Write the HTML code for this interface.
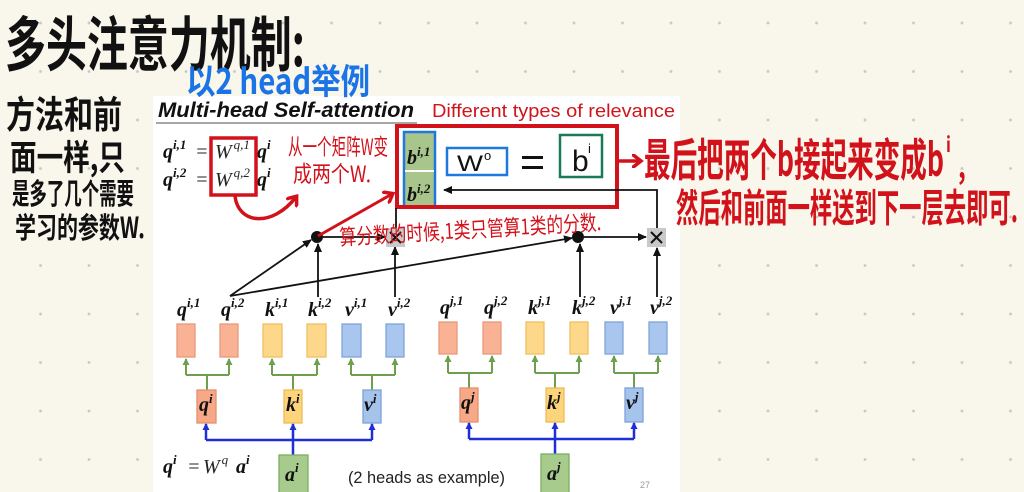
<!DOCTYPE html>
<html><head><meta charset="utf-8">
<style>
html,body{margin:0;padding:0;}
body{width:1024px;height:492px;overflow:hidden;position:relative;
background-color:#f9f6ec;
background-image:radial-gradient(circle,#c9c7c0 1.1px,rgba(0,0,0,0) 1.7px);
background-size:48.5px 48.5px;background-position:16.25px -1.25px;}
svg{position:absolute;left:0;top:0;}
.m{font-family:"Liberation Serif",serif;font-weight:bold;font-style:italic;font-size:20px;fill:#111;}
.mi{font-family:"Liberation Serif",serif;font-style:italic;font-size:20px;fill:#222;}
.s{font-size:13px;}
.hk{font-family:"Noto Sans CJK SC","WenQuanYi Zen Hei",sans-serif;font-weight:700;}
.hn{font-family:"Noto Sans CJK SC","WenQuanYi Zen Hei",sans-serif;font-weight:400;}
</style></head><body>
<svg width="1024" height="492" viewBox="0 0 1024 492" xmlns="http://www.w3.org/2000/svg">
<defs>
<marker id="ab" markerWidth="9" markerHeight="8" refX="8" refY="4" orient="auto" markerUnits="userSpaceOnUse"><path d="M0,0 L9,4 L0,8 z" fill="#111"/></marker>
<marker id="ag" markerWidth="7" markerHeight="7" refX="6" refY="3.5" orient="auto" markerUnits="userSpaceOnUse"><path d="M0,0 L7,3.5 L0,7 z" fill="#6e9f4f"/></marker>
<marker id="abl" markerWidth="7" markerHeight="7" refX="6" refY="3.5" orient="auto" markerUnits="userSpaceOnUse"><path d="M0,0 L7,3.5 L0,7 z" fill="#1f2fd8"/></marker>
<marker id="ar" markerWidth="14" markerHeight="14" refX="8" refY="7" orient="auto" markerUnits="userSpaceOnUse"><path d="M0,0 L9,7 L0,14" fill="none" stroke="#d2121a" stroke-width="3.5" stroke-linecap="round"/></marker>
</defs>

<rect x="153" y="96" width="527" height="396" fill="#ffffff"/>

<text x="158" y="117" font-family="Liberation Sans,sans-serif" font-weight="bold" font-style="italic" font-size="21" fill="#111" textLength="256" lengthAdjust="spacingAndGlyphs">Multi-head Self-attention</text>
<line x1="156" y1="123" x2="417" y2="123" stroke="#8a8a8a" stroke-width="1.5"/>
<text x="432" y="117" font-family="Liberation Sans,sans-serif" font-size="18" fill="#d0141c" textLength="243" lengthAdjust="spacingAndGlyphs">Different types of relevance</text>

<text class="m" x="163" y="158">q<tspan class="s" dy="-9">i,1</tspan></text>
<text class="mi" x="195" y="158" font-style="normal">=</text>
<text class="mi" x="215" y="158">W<tspan class="s" dy="-9" dx="2">q,1</tspan></text>
<text class="m" x="257" y="158">q<tspan class="s" dy="-9">i</tspan></text>
<text class="m" x="163" y="186">q<tspan class="s" dy="-9">i,2</tspan></text>
<text class="mi" x="195" y="186" font-style="normal">=</text>
<text class="mi" x="215" y="186">W<tspan class="s" dy="-9" dx="2">q,2</tspan></text>
<text class="m" x="257" y="186">q<tspan class="s" dy="-9">i</tspan></text>
<rect x="211" y="138" width="45" height="57" fill="none" stroke="#d2121a" stroke-width="3.5"/>

<rect x="404" y="132" width="31" height="75" fill="#a8c58c" stroke="#1f78e0" stroke-width="2.5"/>
<line x1="405" y1="171" x2="434" y2="171" stroke="#ffffff" stroke-width="2"/>
<text class="m" x="407" y="164" font-size="17">b<tspan class="s" font-size="11" dy="-8">i,1</tspan></text>
<text class="m" x="407" y="201" font-size="17">b<tspan class="s" font-size="11" dy="-8">i,2</tspan></text>
<rect x="447" y="148" width="60" height="27" fill="#fff" stroke="#1f78e0" stroke-width="2.5"/>
<text x="457" y="171" font-family="Liberation Sans,sans-serif" font-size="22" fill="#111" textLength="26" lengthAdjust="spacingAndGlyphs">W</text>
<text x="484" y="160" font-family="Liberation Sans,sans-serif" font-size="13" fill="#111">o</text>
<rect x="522" y="156" width="21" height="3" fill="#111"/>
<rect x="522" y="166" width="21" height="3" fill="#111"/>
<rect x="560" y="135" width="42" height="42" fill="#fff" stroke="#1a7a55" stroke-width="2.5"/>
<text x="572" y="171" font-family="Liberation Sans,sans-serif" font-size="30" fill="#111">b</text>
<text x="588" y="153" font-family="Liberation Sans,sans-serif" font-size="13" fill="#111">i</text>
<rect x="397" y="126" width="220" height="81" fill="none" stroke="#d2121a" stroke-width="4"/>

<g stroke="#111" stroke-width="1.8" fill="none">
<line x1="230" y1="296" x2="311" y2="240" marker-end="url(#ab)"/>
<line x1="230" y1="296" x2="572" y2="238" marker-end="url(#ab)"/>
<line x1="318" y1="297" x2="318" y2="244" marker-end="url(#ab)"/>
<line x1="395" y1="297" x2="395" y2="247" marker-end="url(#ab)"/>
<line x1="323" y1="237" x2="385" y2="237" marker-end="url(#ab)"/>
<line x1="396" y1="228" x2="396" y2="208"/>
<line x1="580" y1="297" x2="580" y2="244" marker-end="url(#ab)"/>
<line x1="657" y1="297" x2="657" y2="248" marker-end="url(#ab)"/>
<line x1="584" y1="237" x2="646" y2="237" marker-end="url(#ab)"/>
<polyline points="657,228 657,190 444,190" marker-end="url(#ab)"/>
</g>
<circle cx="317" cy="237" r="6" fill="#111"/>
<circle cx="578" cy="237" r="6" fill="#111"/>
<rect x="386" y="228" width="19" height="19" fill="#c9c9c9"/>
<path d="M390,232 L401,243 M401,232 L390,243" stroke="#111" stroke-width="2"/>
<rect x="647" y="228" width="19" height="19" fill="#c9c9c9"/>
<path d="M651,232 L662,243 M662,232 L651,243" stroke="#111" stroke-width="2"/>

<text class="m" x="177" y="316">q<tspan class="s" dy="-9">i,1</tspan></text>
<text class="m" x="221" y="316">q<tspan class="s" dy="-9">i,2</tspan></text>
<text class="m" x="265" y="316">k<tspan class="s" dy="-9">i,1</tspan></text>
<text class="m" x="308" y="316">k<tspan class="s" dy="-9">i,2</tspan></text>
<text class="m" x="345" y="316">v<tspan class="s" dy="-9">i,1</tspan></text>
<text class="m" x="388" y="316">v<tspan class="s" dy="-9">i,2</tspan></text>
<text class="m" x="440" y="314">q<tspan class="s" dy="-9">j,1</tspan></text>
<text class="m" x="484" y="314">q<tspan class="s" dy="-9">j,2</tspan></text>
<text class="m" x="528" y="314">k<tspan class="s" dy="-9">j,1</tspan></text>
<text class="m" x="572" y="314">k<tspan class="s" dy="-9">j,2</tspan></text>
<text class="m" x="610" y="314">v<tspan class="s" dy="-9">j,1</tspan></text>
<text class="m" x="650" y="314">v<tspan class="s" dy="-9">j,2</tspan></text>

<g stroke-width="1.3">
<rect x="177" y="324" width="18" height="33" fill="#f9b293" stroke="#e79a7c"/>
<rect x="220" y="324" width="18" height="33" fill="#f9b293" stroke="#e79a7c"/>
<rect x="263" y="324" width="19" height="33" fill="#fdd88a" stroke="#f2c060"/>
<rect x="307" y="324" width="19" height="33" fill="#fdd88a" stroke="#f2c060"/>
<rect x="342" y="324" width="19" height="33" fill="#a9c6ee" stroke="#7fa5d9"/>
<rect x="386" y="324" width="18" height="33" fill="#a9c6ee" stroke="#7fa5d9"/>
<rect x="439" y="322" width="18" height="32" fill="#f9b293" stroke="#e79a7c"/>
<rect x="483" y="322" width="18" height="32" fill="#f9b293" stroke="#e79a7c"/>
<rect x="526" y="322" width="18" height="32" fill="#fdd88a" stroke="#f2c060"/>
<rect x="570" y="322" width="18" height="32" fill="#fdd88a" stroke="#f2c060"/>
<rect x="605" y="322" width="18" height="32" fill="#a9c6ee" stroke="#7fa5d9"/>
<rect x="649" y="322" width="18" height="32" fill="#a9c6ee" stroke="#7fa5d9"/>
</g>

<g stroke="#6e9f4f" stroke-width="2" fill="none">
<polyline points="186,375 229,375"/><line x1="207" y1="375" x2="207" y2="390"/>
<line x1="186" y1="375" x2="186" y2="359" marker-end="url(#ag)"/><line x1="229" y1="375" x2="229" y2="359" marker-end="url(#ag)"/>
<polyline points="272,375 317,375"/><line x1="293" y1="375" x2="293" y2="390"/>
<line x1="272" y1="375" x2="272" y2="359" marker-end="url(#ag)"/><line x1="317" y1="375" x2="317" y2="359" marker-end="url(#ag)"/>
<polyline points="351,375 395,375"/><line x1="372" y1="375" x2="372" y2="390"/>
<line x1="351" y1="375" x2="351" y2="359" marker-end="url(#ag)"/><line x1="395" y1="375" x2="395" y2="359" marker-end="url(#ag)"/>
<polyline points="448,373 492,373"/><line x1="469" y1="373" x2="469" y2="388"/>
<line x1="448" y1="373" x2="448" y2="356" marker-end="url(#ag)"/><line x1="492" y1="373" x2="492" y2="356" marker-end="url(#ag)"/>
<polyline points="535,373 579,373"/><line x1="555" y1="373" x2="555" y2="388"/>
<line x1="535" y1="373" x2="535" y2="356" marker-end="url(#ag)"/><line x1="579" y1="373" x2="579" y2="356" marker-end="url(#ag)"/>
<polyline points="614,373 658,373"/><line x1="634" y1="373" x2="634" y2="388"/>
<line x1="614" y1="373" x2="614" y2="356" marker-end="url(#ag)"/><line x1="658" y1="373" x2="658" y2="356" marker-end="url(#ag)"/>
</g>

<g stroke-width="1.3">
<rect x="197" y="390" width="19" height="33" fill="#f7a886" stroke="#e3906f"/>
<rect x="284" y="390" width="18" height="33" fill="#fcd47c" stroke="#efbc55"/>
<rect x="363" y="390" width="18" height="33" fill="#a6c3ec" stroke="#7ca2d8"/>
<rect x="460" y="388" width="18" height="34" fill="#f7a886" stroke="#e3906f"/>
<rect x="546" y="388" width="18" height="34" fill="#fcd47c" stroke="#efbc55"/>
<rect x="625" y="388" width="18" height="34" fill="#a6c3ec" stroke="#7ca2d8"/>
</g>
<text class="m" x="199" y="411" font-size="18">q<tspan class="s" font-size="12" dy="-8">i</tspan></text>
<text class="m" x="286" y="411" font-size="18">k<tspan class="s" font-size="12" dy="-8">i</tspan></text>
<text class="m" x="364" y="411" font-size="18">v<tspan class="s" font-size="12" dy="-8">i</tspan></text>
<text class="m" x="461" y="409" font-size="18">q<tspan class="s" font-size="12" dy="-8">j</tspan></text>
<text class="m" x="547" y="409" font-size="18">k<tspan class="s" font-size="12" dy="-8">j</tspan></text>
<text class="m" x="626" y="409" font-size="18">v<tspan class="s" font-size="12" dy="-8">j</tspan></text>

<g stroke="#1f2fd8" stroke-width="2.5" fill="none">
<line x1="206" y1="440" x2="372" y2="440"/>
<line x1="293" y1="455" x2="293" y2="424" marker-end="url(#abl)"/>
<line x1="206" y1="440" x2="206" y2="424" marker-end="url(#abl)"/>
<line x1="372" y1="440" x2="372" y2="424" marker-end="url(#abl)"/>
<line x1="469" y1="439" x2="634" y2="439"/>
<line x1="555" y1="454" x2="555" y2="423" marker-end="url(#abl)"/>
<line x1="469" y1="439" x2="469" y2="423" marker-end="url(#abl)"/>
<line x1="634" y1="439" x2="634" y2="423" marker-end="url(#abl)"/>
</g>
<rect x="279" y="455" width="29" height="40" fill="#a6cb8c" stroke="#7eae64" stroke-width="1.3"/>
<rect x="541" y="454" width="28" height="41" fill="#a6cb8c" stroke="#7eae64" stroke-width="1.3"/>
<text class="m" x="285" y="481">a<tspan class="s" dy="-9">i</tspan></text>
<text class="m" x="547" y="480">a<tspan class="s" dy="-9">j</tspan></text>

<text class="m" x="163" y="473">q<tspan class="s" dy="-9">i</tspan></text>
<text class="mi" x="187" y="473" font-style="normal">=</text>
<text class="mi" x="203" y="473">W<tspan class="s" dy="-9" dx="2">q</tspan></text>
<text class="m" x="236" y="473">a<tspan class="s" dy="-9">i</tspan></text>
<text x="348" y="483" font-family="Liberation Sans,sans-serif" font-size="17" fill="#222" textLength="157" lengthAdjust="spacingAndGlyphs">(2 heads as example)</text>
<text x="640" y="488" font-family="Liberation Sans,sans-serif" font-size="9" fill="#999">27</text>

<path d="M235,196 C238,224 272,228 296,197" fill="none" stroke="#d2121a" stroke-width="3.5" stroke-linecap="round" marker-end="url(#ar)"/>
<line x1="318" y1="236" x2="392" y2="194" stroke="#d2121a" stroke-width="3" marker-end="url(#ar)"/>
<line x1="618" y1="161" x2="640" y2="161" stroke="#d2121a" stroke-width="3.5" marker-end="url(#ar)"/>

<g transform="translate(288,155) scale(1,1.5)"><text class="hn" x="0" y="0" font-size="15" fill="#d2121a" textLength="100" lengthAdjust="spacingAndGlyphs">从一个矩阵W变</text></g>
<g transform="translate(293,182) scale(1,1.5)"><text class="hn" x="0" y="0" font-size="15" fill="#d2121a" textLength="78" lengthAdjust="spacingAndGlyphs">成两个W.</text></g>
<g transform="translate(340,245) rotate(-3.3) scale(1,1.35)"><text class="hn" x="0" y="0" font-size="16" fill="#d2121a" textLength="262" lengthAdjust="spacingAndGlyphs">算分数的时候,1类只管算1类的分数.</text></g>

<g transform="translate(644,176) scale(1,1.45)"><text class="hk" x="0" y="0" font-size="31" fill="#d2121a" textLength="300" lengthAdjust="spacingAndGlyphs">最后把两个b接起来变成b</text></g>
<g transform="translate(946,152) scale(1,1.3)"><text class="hk" x="0" y="0" font-size="16" fill="#d2121a">i</text></g>
<g transform="translate(958,178) scale(1,1.4)"><text class="hk" x="0" y="0" font-size="24" fill="#d2121a">,</text></g>
<g transform="translate(676,222) scale(1,1.45)"><text class="hk" x="0" y="0" font-size="27" fill="#d2121a" textLength="342" lengthAdjust="spacingAndGlyphs">然后和前面一样送到下一层去即可.</text></g>

<g transform="translate(5,66) scale(1,1.35)"><text class="hk" x="0" y="0" font-size="44" fill="#111" textLength="300" lengthAdjust="spacingAndGlyphs">多头注意力机制:</text></g>
<g transform="translate(6,128) scale(1,1.3)"><text class="hk" x="0" y="0" font-size="29" fill="#111" textLength="116" lengthAdjust="spacingAndGlyphs">方法和前</text></g>
<g transform="translate(10,170) scale(1,1.3)"><text class="hk" x="0" y="0" font-size="27" fill="#111" textLength="115" lengthAdjust="spacingAndGlyphs">面一样,只</text></g>
<g transform="translate(12,204) scale(1,1.45)"><text class="hk" x="0" y="0" font-size="20" fill="#111" textLength="122" lengthAdjust="spacingAndGlyphs">是多了几个需要</text></g>
<g transform="translate(15,238) scale(1,1.45)"><text class="hk" x="0" y="0" font-size="20" fill="#111" textLength="130" lengthAdjust="spacingAndGlyphs">学习的参数W.</text></g>

<g transform="translate(186,94) scale(1,1.3)"><text class="hk" x="0" y="0" font-size="27" fill="#1a74e6" font-weight="500" textLength="184" lengthAdjust="spacingAndGlyphs">以2 head举例</text></g>
</svg>
</body></html>
